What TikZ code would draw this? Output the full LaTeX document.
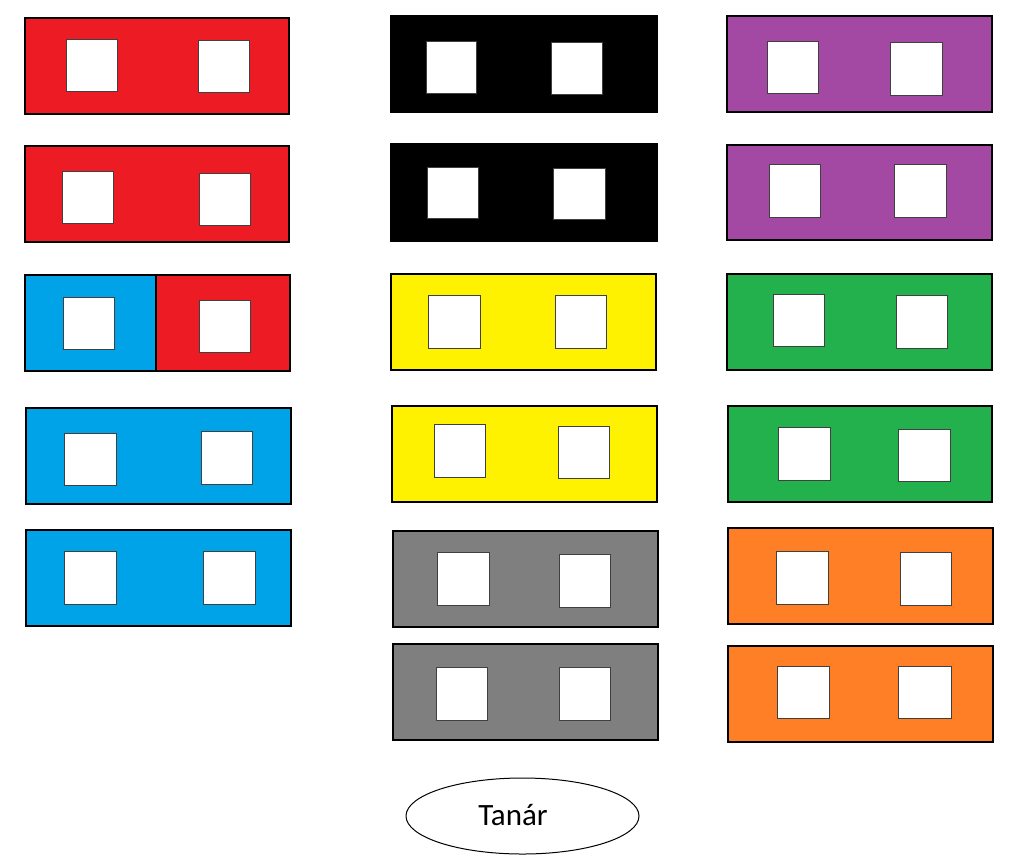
\documentclass[tikz,border=0pt]{standalone}
\usepackage{fontspec}
\newfontfamily\calibrifont{Carlito}
\usetikzlibrary{shapes.geometric}
\definecolor{pred}{HTML}{ED1C24}
\definecolor{pblue}{HTML}{00A2E8}
\definecolor{pblack}{HTML}{000000}
\definecolor{ppurple}{HTML}{A349A4}
\definecolor{pyellow}{HTML}{FFF200}
\definecolor{pgreen}{HTML}{22B14C}
\definecolor{pgray}{HTML}{7F7F7F}
\definecolor{porange}{HTML}{FF7F27}
\tikzset{
  deskbox/.style={draw=black, line width=1.6pt, rectangle, inner sep=0pt, outer sep=0pt},
  seatbox/.style={draw=black!75, fill=white, line width=0.6pt, rectangle, inner sep=0pt, outer sep=0pt},
  teacherbox/.style={draw=black, line width=1pt, ellipse, inner sep=0pt, minimum width=233pt, minimum height=76pt},
  teachertext/.style={inner sep=0pt, font=\calibrifont\fontsize{31}{37}\selectfont}
}
% #1 name, #2 colour, #3 x1, #4 y1, #5 x2, #6 y2
\newcommand\deskat[6]{\node[deskbox, fill=#2, minimum width={#5-#3}, minimum height={#6-#4}] (#1) at ({(#3+#5)/2},{(#4+#6)/2}) {};}
\newcommand\seatat[5]{\node[seatbox, minimum width={#4-#2}, minimum height={#5-#3}] (#1) at ({(#2+#4)/2},{(#3+#5)/2}) {};}
\begin{document}
\begin{tikzpicture}[x=1pt,y=-1pt]
\useasboundingbox (0,0) rectangle (1024,857);
% column 1
\deskat{a1}{pred}{25}{18}{289}{114}
\seatat{a1l}{66}{39}{117}{91}
\seatat{a1r}{198}{40}{249}{92}
\deskat{a2}{pred}{25}{146}{289}{242}
\seatat{a2l}{62}{171}{113}{223}
\seatat{a2r}{199}{173}{250}{225}
\deskat{a3b}{pblue}{25}{275}{156}{371}
\deskat{a3r}{pred}{156}{275}{290}{371}
\seatat{a3l}{63}{297}{114}{349}
\seatat{a3rs}{199}{300}{250}{352}
\deskat{a4}{pblue}{26}{408}{291}{504}
\seatat{a4l}{64}{433}{116}{485}
\seatat{a4r}{201}{431}{252}{484}
\deskat{a5}{pblue}{26}{530}{291}{626}
\seatat{a5l}{64}{551}{116}{604}
\seatat{a5r}{203}{551}{255}{604}
% column 2
\deskat{b1}{pblack}{391}{16}{657}{112}
\seatat{b1l}{426}{41}{476}{93}
\seatat{b1r}{551}{42}{602}{94}
\deskat{b2}{pblack}{391}{144}{657}{241}
\seatat{b2l}{427}{167}{478}{218}
\seatat{b2r}{553}{168}{605}{219}
\deskat{b3}{pyellow}{391}{274}{656}{370}
\seatat{b3l}{428}{295}{480}{348}
\seatat{b3r}{555}{295}{606}{348}
\deskat{b4}{pyellow}{392}{406}{657}{502}
\seatat{b4l}{434}{424}{485}{477}
\seatat{b4r}{558}{426}{609}{478}
\deskat{b5}{pgray}{393}{531}{658}{627}
\seatat{b5l}{437}{552}{489}{605}
\seatat{b5r}{559}{554}{610}{607}
\deskat{b6}{pgray}{393}{644}{658}{740}
\seatat{b6l}{436}{667}{487}{720}
\seatat{b6r}{559}{667}{610}{720}
% column 3
\deskat{c1}{ppurple}{727}{16}{992}{112}
\seatat{c1l}{767}{41}{818}{93}
\seatat{c1r}{890}{42}{942}{95}
\deskat{c2}{ppurple}{727}{145}{992}{240}
\seatat{c2l}{769}{164}{820}{217}
\seatat{c2r}{894}{164}{946}{217}
\deskat{c3}{pgreen}{727}{274}{992}{370}
\seatat{c3l}{773}{294}{824}{346}
\seatat{c3r}{896}{295}{947}{348}
\deskat{c4}{pgreen}{728}{406}{992}{502}
\seatat{c4l}{778}{427}{830}{480}
\seatat{c4r}{898}{429}{950}{481}
\deskat{c5}{porange}{728}{528}{993}{624}
\seatat{c5l}{776}{551}{828}{604}
\seatat{c5r}{900}{552}{951}{605}
\deskat{c6}{porange}{728}{646}{993}{742}
\seatat{c6l}{777}{666}{829}{718}
\seatat{c6r}{898}{666}{951}{718}
% teacher
\node[teacherbox] (teacher) at (522.5,816) {};
\node[teachertext] (teacherlabel) at (513,815) {Tanár};
\end{tikzpicture}
\end{document}
